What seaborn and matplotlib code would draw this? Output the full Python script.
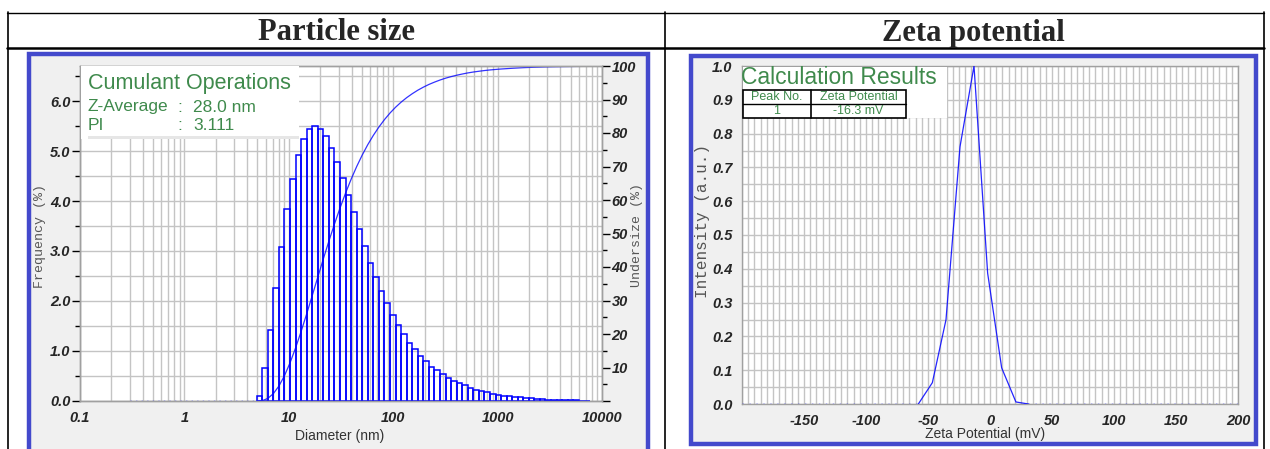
import numpy as np
import matplotlib
matplotlib.use("Agg")
import matplotlib.pyplot as plt
import matplotlib.ticker as mticker
from matplotlib.patches import Rectangle
from matplotlib.lines import Line2D
import seaborn as sns

# ---------------- data ----------------
# Particle size distribution (DLS), log-spaced size classes
size_lo_nm = 4.93          # lower edge of the first populated class
size_hi_nm = 7660.0        # upper edge of the last class
range_min_nm = 0.3         # lower limit of the measuring range
frequency_pct = [
    0.11, 0.67, 1.43, 2.27, 3.09, 3.84, 4.45, 4.93, 5.25, 5.45,
    5.51, 5.45, 5.31, 5.07, 4.79, 4.46, 4.13, 3.78, 3.44, 3.10,
    2.77, 2.48, 2.21, 1.97, 1.73, 1.52, 1.34, 1.17, 1.05, 0.91,
    0.81, 0.69, 0.63, 0.55, 0.47, 0.41, 0.36, 0.33, 0.27, 0.23,
    0.21, 0.18, 0.15, 0.13, 0.11, 0.11, 0.09, 0.09, 0.07, 0.06,
    0.05, 0.05, 0.03, 0.03, 0.03, 0.02, 0.02, 0.02, 0.01, 0.01,
]
size_ticks = [0.1, 1, 10, 100, 1000, 10000]
size_ticklabels = ["0.1", "1", "10", "100", "1000", "10000"]
z_average_nm = 28.0
pdi = 3.111

# Zeta potential distribution
zeta_mv = [-57.8, -46.5, -35.5, -24.2, -12.9, -1.9, 9.4, 20.9, 31.0]
zeta_intensity = [0.0, 0.063, 0.249, 0.761, 1.0, 0.387, 0.107, 0.006, 0.0]
zeta_peak_no = "1"
zeta_mean_mv = -16.3

headers = ["Particle size", "Zeta potential"]

# ---------------- style ----------------
sns.set_theme(style="white")
plt.rcParams["font.family"] = ["Liberation Sans", "DejaVu Sans"]

W, H = 1270, 449
fig = plt.figure(figsize=(W / 100, H / 100), dpi=100)
fig.patch.set_facecolor("white")

BLUE = "#0000ff"
FRAME = "#4349cc"
PANEL = "#f0f0f0"
GRID = "#c4c4c4"
GREEN = "#3f8a4c"


def fx(x):
    return x / W


def fy(y):
    return 1 - y / H


def fig_rect(x0, y0, x1, y1, **kw):
    r = Rectangle((fx(x0), fy(y1)), fx(x1) - fx(x0), fy(y0) - fy(y1),
                  transform=fig.transFigure, **kw)
    fig.add_artist(r)
    return r


def fig_line(xs, ys, **kw):
    fig.add_artist(Line2D([fx(v) for v in xs], [fy(v) for v in ys],
                          transform=fig.transFigure, **kw))


# outer table
fig_line([7, 1264], [12.5, 12.5], color="black", lw=1.0)
fig_line([7, 1264], [48, 48], color="black", lw=1.8)
for xv in (7.5, 665, 1264):
    fig_line([xv, xv], [12, 449], color="black", lw=1.2)
fig.text(fx(337), fy(33), headers[0], ha="center", va="center",
         fontsize=22, fontweight="bold", family="Liberation Serif")
fig.text(fx(973), fy(33), headers[1], ha="center", va="center",
         fontsize=22, fontweight="bold", family="Liberation Serif")

# instrument panels (grey background with blue frame)
fig_rect(29, 54.5, 648, 470, facecolor=PANEL, edgecolor=FRAME, lw=3.2, zorder=-1)
fig_rect(690.5, 56, 1256, 444, facecolor=PANEL, edgecolor=FRAME, lw=3.2, zorder=-1)

tick_font = dict(fontsize=10.5, fontweight="bold", fontstyle="italic",
                 family="Liberation Sans")


def style_axes(ax):
    ax.set_facecolor("white")
    for s in ax.spines.values():
        s.set_color("#a0a0a0")
        s.set_linewidth(1.0)
    ax.tick_params(which="major", direction="out", length=6, width=1,
                   color="black", pad=1)
    ax.tick_params(which="minor", direction="out", length=3.5, width=1,
                   color="black")
    for lab in ax.get_xticklabels() + ax.get_yticklabels():
        lab.set(**tick_font)


# ---------------- particle size ----------------
ax = fig.add_axes([fx(80), fy(401), fx(602) - fx(80), fy(66) - fy(401)])
edges = np.geomspace(size_lo_nm, size_hi_nm, len(frequency_pct) + 1)
freq = np.array(frequency_pct)
ax.bar(edges[:-1], freq, width=np.diff(edges), align="edge", fill=False,
       edgecolor=BLUE, linewidth=1.1, zorder=3)
ax.plot([range_min_nm, edges[0]], [0, 0], ls=(0, (1, 3)), color=BLUE,
        lw=1.0, zorder=3)
ax.set_xscale("log")
ax.set_xlim(0.1, 10000)
ax.set_ylim(0, 6.7)
ax.xaxis.set_major_locator(mticker.FixedLocator(size_ticks))
ax.xaxis.set_major_formatter(mticker.FixedFormatter(size_ticklabels))
ax.xaxis.set_minor_locator(mticker.LogLocator(base=10, subs=np.arange(2, 10)))
ax.xaxis.set_minor_formatter(mticker.NullFormatter())
ax.yaxis.set_major_locator(mticker.MultipleLocator(1.0))
ax.yaxis.set_minor_locator(mticker.MultipleLocator(0.5))
ax.yaxis.set_major_formatter(mticker.FormatStrFormatter("%.1f"))
ax.grid(True, which="both", axis="both", color=GRID, lw=1.0, zorder=0)
ax.set_axisbelow(True)
style_axes(ax)

# cumulative undersize on the right axis
ax2 = ax.twinx()
cum = np.concatenate([[0.0], np.cumsum(freq)])
sns.lineplot(x=edges, y=cum, ax=ax2, color=BLUE, lw=0.9, alpha=0.8)
ax2.set_ylim(0, 100)
ax2.yaxis.set_major_locator(mticker.MultipleLocator(10))
ax2.yaxis.set_major_formatter(mticker.FuncFormatter(lambda v, p: "" if v == 0 else f"{v:.0f}"))
ax2.yaxis.set_minor_locator(mticker.MultipleLocator(5))
ax2.set_ylabel("")
ax2.grid(False)
style_axes(ax2)
ax2.set_facecolor("none")
for lab in ax2.get_yticklabels():
    lab.set(**tick_font)

fig.text(fx(40), fy(236), "Frequency (%)", rotation=90, ha="center",
         va="center", fontsize=9.5, family="Liberation Mono", color="#555555")
fig.text(fx(637), fy(235), "Undersize (%)", rotation=90, ha="center",
         va="center", fontsize=9.5, family="Liberation Mono", color="#555555")
fig.text(fx(340), fy(436), "Diameter (nm)", ha="center", va="center",
         fontsize=10, color="#333333")

# cumulant results box
fig_rect(80.5, 66.5, 299, 139, facecolor="white", edgecolor="none", zorder=5)
fig_rect(88, 136, 299, 139, facecolor="#e6e6e6", edgecolor="none", zorder=5)
fig.text(fx(88), fy(83), "Cumulant Operations", ha="left", va="center",
         fontsize=15.5, color=GREEN, zorder=6)
fig.text(fx(88), fy(107), "Z-Average", ha="left", va="center",
         fontsize=12.5, color=GREEN, zorder=6)
fig.text(fx(88), fy(125), "PI", ha="left", va="center",
         fontsize=12.5, color=GREEN, zorder=6)
for yy, val in ((107, f"{z_average_nm:.1f} nm"), (125, f"{pdi:.3f}")):
    fig.text(fx(177), fy(yy), ":", ha="left", va="center", fontsize=12.5,
             color=GREEN, zorder=6)
    fig.text(fx(193), fy(yy), val, ha="left", va="center", fontsize=12.5,
             color=GREEN, zorder=6)

# ---------------- zeta potential ----------------
axz = fig.add_axes([fx(742), fy(404), fx(1238) - fx(742), fy(66) - fy(404)])
sns.lineplot(x=zeta_mv, y=zeta_intensity, ax=axz, color=BLUE, lw=0.9,
             alpha=0.85, zorder=3)
axz.set_xlim(-200, 200)
axz.set_ylim(0, 1.0)
axz.plot([-200, zeta_mv[0]], [0, 0], ls=(0, (1, 4)), color=BLUE, lw=1.0, zorder=3)
axz.plot([zeta_mv[-1], 200], [0, 0], ls=(0, (1, 4)), color=BLUE, lw=1.0, zorder=3)
axz.xaxis.set_major_locator(mticker.MultipleLocator(50))
axz.xaxis.set_major_formatter(mticker.FuncFormatter(lambda v, p: "" if v <= -200 else f"{v:.0f}"))
axz.xaxis.set_minor_locator(mticker.MultipleLocator(5))
axz.yaxis.set_major_locator(mticker.MultipleLocator(0.1))
axz.yaxis.set_minor_locator(mticker.MultipleLocator(0.05))
axz.yaxis.set_major_formatter(mticker.FormatStrFormatter("%.1f"))
axz.grid(True, which="both", axis="both", color=GRID, lw=1.0, zorder=0)
axz.set_axisbelow(True)
axz.set_xlabel("")
axz.set_ylabel("")
style_axes(axz)

fig.text(fx(703), fy(221), "Intensity (a.u.)", rotation=90, ha="center",
         va="center", fontsize=11.5, family="Liberation Mono", color="#555555")
fig.text(fx(985), fy(434), "Zeta Potential (mV)", ha="center", va="center",
         fontsize=10, color="#333333")

# calculation results box with small table
fig_rect(742.5, 66.5, 947, 118, facecolor="white", edgecolor="none", zorder=5)
fig.text(fx(741), fy(77), "Calculation Results", ha="left", va="center",
         fontsize=16.5, color=GREEN, zorder=6)
fig_rect(742.5, 90, 906, 118, facecolor="none", edgecolor="black", lw=1.2, zorder=6)
fig_line([742.5, 906], [104, 104], color="black", lw=1.0, zorder=6)
fig_line([811, 811], [90, 118], color="black", lw=1.2, zorder=6)
cells = [("Peak No.", "Zeta Potential"), (zeta_peak_no, f"{zeta_mean_mv:.1f} mV")]
for yy, (c1, c2) in zip((97, 111), cells):
    fig.text(fx(776.5), fy(yy), c1, ha="center", va="center", fontsize=9,
             color=GREEN, zorder=7)
    fig.text(fx(858.5), fy(yy), c2, ha="center", va="center", fontsize=9,
             color=GREEN, zorder=7)

fig.savefig("out.png", dpi=100, facecolor="white")
